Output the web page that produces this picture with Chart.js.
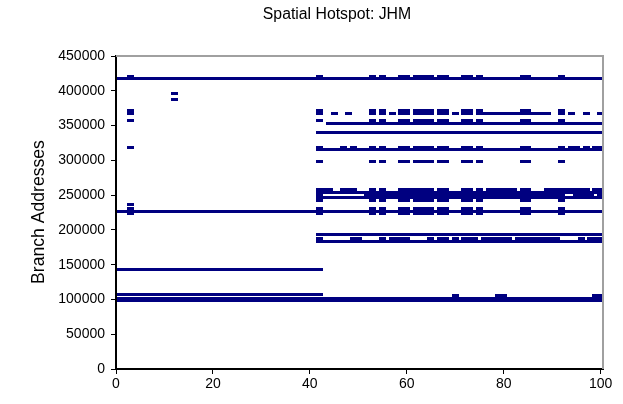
<!DOCTYPE html>
<html>
<head>
<meta charset="utf-8">
<script src="https://cdn.jsdelivr.net/npm/chart.js@4/dist/chart.umd.min.js"></script>
<style>
  html, body { margin: 0; padding: 0; background: #fff; }
  #wrap { width: 623px; height: 404px; }
</style>
</head>
<body>
<div id="wrap"><canvas id="c" width="623" height="404"></canvas></div>
<script>
// Axis ticks
const xTickValues = [0, 20, 40, 60, 80, 100];
const yTickValues = [0, 50000, 100000, 150000, 200000, 250000, 300000, 350000, 400000, 450000];

// Sample indices where the extra address blocks are touched
const burstX = [42, 53, 55, 59, 60, 62, 63, 64, 65, 67, 68, 72, 73, 75, 84, 85, 92];
const burstAddrs = [420000, 372000, 368000, 357000, 318000, 298000, 258000, 242000, 231000, 223000];

// Addresses hit on every sample of a run: [address, first, last, skipped samples]
const runRows = [
  [418000, 1, 100, []],
  [227000, 1, 100, []],
  [143000, 1, 42, []],
  [107000, 1, 42, []],
  [101000, 1, 100, []],
  [98000, 1, 100, []],
  [353000, 44, 100, []],
  [340000, 42, 100, []],
  [315000, 42, 100, []],
  [254000, 42, 100, []],
  [250000, 42, 100, [43, 44, 45, 46, 47, 48, 49, 50, 51, 93, 94, 99]],
  [246000, 42, 100, []],
  [193000, 42, 100, []],
  [188000, 42, 100, [43, 44, 45, 46, 47, 48, 51, 52, 53, 54, 56, 61, 62, 63, 64, 66, 69, 71, 75, 82, 92, 93, 94, 95, 97]],
  [183000, 42, 100, []]
];

// Scattered hits: [address, samples]
const scatterRows = [
  [420000, [3]],
  [372000, [3]],
  [368000, [3, 45, 48, 57, 70, 76, 77, 78, 79, 80, 81, 82, 83, 86, 87, 88, 89, 94, 97, 100]],
  [357000, [3]],
  [318000, [3, 47, 49, 94, 95, 97, 99, 100]],
  [396000, [12]],
  [388000, [12]],
  [258000, [43, 44, 47, 48, 49, 61, 77, 78, 79, 80, 81, 82, 89, 90, 91, 93, 94, 95, 96, 97, 99, 100]],
  [237000, [3]],
  [231000, [3]],
  [223000, [3]],
  [105000, [70, 79, 80, 99, 100]]
];

// Build the point table from the rows above
const points = [];
runRows.forEach(([addr, first, last, skip]) => {
  for (let x = first; x <= last; x++) {
    if (!skip.includes(x)) points.push({ x: x, y: addr });
  }
});
burstAddrs.forEach(addr => burstX.forEach(x => points.push({ x: x, y: addr })));
scatterRows.forEach(([addr, xs]) => xs.forEach(x => points.push({ x: x, y: addr })));

const NAVY = '#000080';
const FONT = '"Liberation Sans", Arial, sans-serif';

// Dash marker: a small solid bar
const dash = document.createElement('canvas');
dash.width = 7;
dash.height = 3;
const dctx = dash.getContext('2d');
dctx.fillStyle = NAVY;
dctx.fillRect(0, 0, 7, 3);

// Keep the dash markers pixel-crisp
const crisp = {
  id: 'crisp',
  beforeDatasetsDraw(chart) { chart.ctx.save(); chart.ctx.imageSmoothingEnabled = false; },
  afterDatasetsDraw(chart) { chart.ctx.restore(); }
};

// Title, y-axis caption and the grey top/right frame
const decor = {
  id: 'decor',
  afterDraw(chart) {
    const { ctx, chartArea: a } = chart;
    ctx.save();
    ctx.strokeStyle = '#a0a0a0';
    ctx.lineWidth = 2;
    ctx.beginPath();
    ctx.moveTo(a.left, a.top);
    ctx.lineTo(a.right, a.top);
    ctx.lineTo(a.right, a.bottom);
    ctx.stroke();

    ctx.fillStyle = '#000';
    ctx.textAlign = 'center';
    ctx.textBaseline = 'middle';
    ctx.font = '15.8px ' + FONT;
    ctx.fillText('Spatial Hotspot: JHM', 337, 15);

    ctx.translate(39, 212);
    ctx.rotate(-Math.PI / 2);
    ctx.font = '17.6px ' + FONT;
    ctx.fillText('Branch Addresses', 0, 0);
    ctx.restore();
  }
};

new Chart(document.getElementById('c'), {
  type: 'scatter',
  data: {
    datasets: [{
      data: points,
      pointStyle: dash,
      pointRadius: 3.5,
      borderColor: NAVY,
      backgroundColor: NAVY,
      pointHoverRadius: 3.5
    }]
  },
  plugins: [crisp, decor],
  options: {
    responsive: false,
    animation: false,
    events: [],
    layout: { padding: { left: 0, right: 20, top: 56, bottom: 0 } },
    plugins: { legend: { display: false }, tooltip: { enabled: false }, title: { display: false } },
    scales: {
      x: {
        type: 'linear',
        min: 0,
        max: 100.5,
        afterBuildTicks: s => { s.ticks = xTickValues.map(v => ({ value: v })); },
        afterFit: s => { s.height = 35; },
        border: { color: '#000', width: 2 },
        grid: { drawOnChartArea: false, drawTicks: true, tickLength: 5, color: '#000' },
        ticks: { color: '#000', padding: 2, font: { family: FONT, size: 14 }, maxRotation: 0 }
      },
      y: {
        type: 'linear',
        min: 0,
        max: 450000,
        afterBuildTicks: s => { s.ticks = yTickValues.map(v => ({ value: v })); },
        afterFit: s => { s.width = 116; },
        border: { color: '#000', width: 2 },
        grid: { drawOnChartArea: false, drawTicks: true, tickLength: 5, color: '#000' },
        ticks: { color: '#000', padding: 6, font: { family: FONT, size: 14 }, callback: v => String(v) }
      }
    }
  }
});
</script>
</body>
</html>
